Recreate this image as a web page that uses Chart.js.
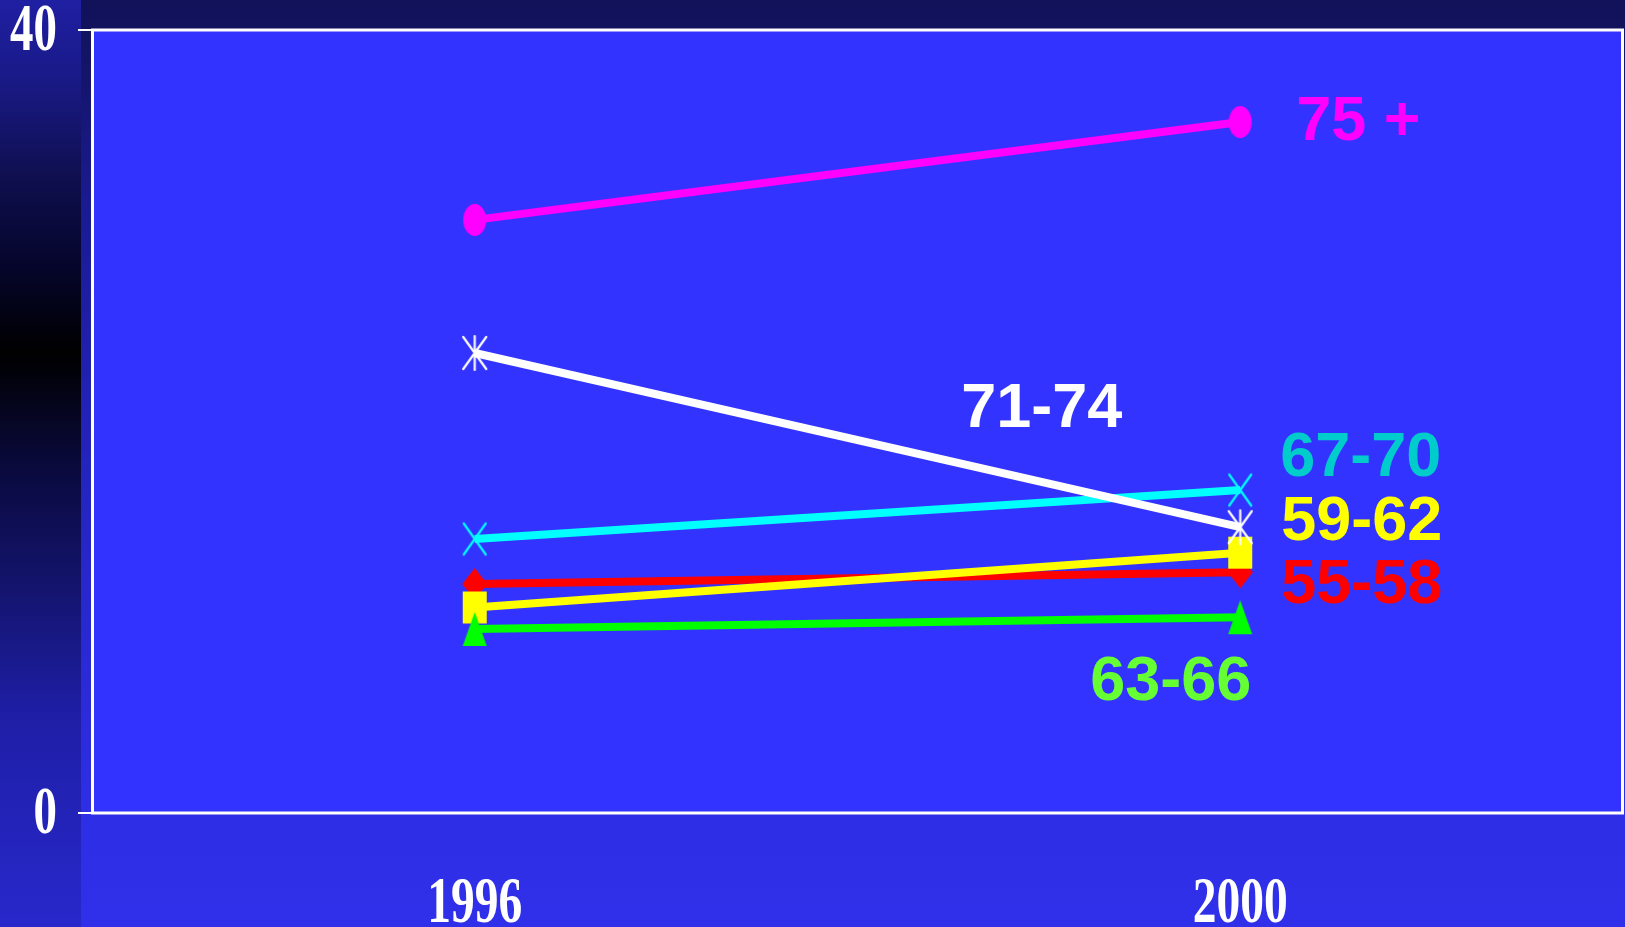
<!DOCTYPE html>
<html>
<head>
<meta charset="utf-8">
<script src="https://cdn.jsdelivr.net/npm/chart.js@4/dist/chart.umd.min.js"></script>
<style>
  html, body { margin: 0; padding: 0; background: #2f2fe8; overflow: hidden; }
  canvas { display: block; }
</style>
</head>
<body>
<canvas id="c" width="1625" height="927"></canvas>
<script>
// Survey years and axis ticks
const years = ['1996', '2000'];
const yTicks = [0, 40];

// Age-group series (value per survey year)
const age75plus = [30.3, 35.3];
const age71to74 = [23.5, 14.6];
const age67to70 = [14.0, 16.5];
const age63to66 = [9.4, 10.0];
const age59to62 = [10.5, 13.3];
const age55to58 = [11.7, 12.3];

// Builds a small canvas used as a point marker
function marker(shape, color, w, h) {
  const pad = 2;
  const c = document.createElement('canvas');
  c.width = w + pad * 2;
  c.height = h + pad * 2;
  const g = c.getContext('2d');
  g.translate(pad, pad);
  g.fillStyle = color;
  g.strokeStyle = color;
  g.lineWidth = 2.2;
  g.lineCap = 'round';
  const poly = pts => {
    g.beginPath();
    pts.forEach((p, i) => i ? g.lineTo(p[0], p[1]) : g.moveTo(p[0], p[1]));
    g.closePath();
    g.fill();
  };
  const line = (x1, y1, x2, y2) => {
    g.beginPath(); g.moveTo(x1, y1); g.lineTo(x2, y2); g.stroke();
  };
  switch (shape) {
    case 'ellipse':
      g.beginPath(); g.ellipse(w / 2, h / 2, w / 2, h / 2, 0, 0, Math.PI * 2); g.fill();
      break;
    case 'rect':
      g.fillRect(0, 0, w, h);
      break;
    case 'diamond':
      poly([[w / 2, 0], [w, h / 2], [w / 2, h], [0, h / 2]]);
      break;
    case 'triangle':
      poly([[w / 2, 0], [w, h], [0, h]]);
      break;
    case 'cross':
      line(1, 1, w - 1, h - 1); line(w - 1, 1, 1, h - 1);
      break;
    case 'asterisk':
      line(1, 1, w - 1, h - 1); line(w - 1, 1, 1, h - 1); line(w / 2, 0, w / 2, h);
      break;
  }
  return c;
}

const series = [
  { label: '75 +',  data: age75plus, color: '#ff00ff', point: marker('ellipse', '#ff00ff', 23, 32) },
  { label: '71-74', data: age71to74, color: '#ffffff', point: marker('asterisk', '#ffffff', 25, 34) },
  { label: '67-70', data: age67to70, color: '#00ffff', point: marker('cross', '#00ffff', 24, 33) },
  { label: '63-66', data: age63to66, color: '#00ff00', point: marker('triangle', '#00ff00', 24, 34) },
  { label: '59-62', data: age59to62, color: '#ffff00', point: marker('rect', '#ffff00', 24, 32) },
  { label: '55-58', data: age55to58, color: '#ff0000', point: marker('diamond', '#ff0000', 25, 32) }
];

// Series name captions: offset from the 2000 tick and from the plot top
const captions = [
  { text: '75 +',  color: '#ff00ff', dx: 56,   dy: 110 },
  { text: '71-74', color: '#ffffff', dx: -279, dy: 397 },
  { text: '67-70', color: '#00cccc', dx: 40,   dy: 446 },
  { text: '59-62', color: '#ffff00', dx: 41,   dy: 510 },
  { text: '55-58', color: '#ff0000', dx: 41,   dy: 573 },
  { text: '63-66', color: '#66ff33', dx: -150, dy: 670 }
];

const backdrop = {
  id: 'backdrop',
  beforeDraw(chart) {
    const { ctx, width, height, chartArea: a } = chart;
    ctx.save();
    // page background
    const bg = ctx.createLinearGradient(0, 0, 0, height);
    bg.addColorStop(0, '#11115a');
    bg.addColorStop(0.035, '#13135e');
    bg.addColorStop(0.22, '#1a1a92');
    bg.addColorStop(0.45, '#2222b8');
    bg.addColorStop(0.66, '#2828d0');
    bg.addColorStop(0.88, '#2e2ee6');
    bg.addColorStop(1, '#3030ea');
    ctx.fillStyle = bg;
    ctx.fillRect(0, 0, width, height);
    // left band
    const band = ctx.createLinearGradient(0, 0, 0, height);
    band.addColorStop(0, '#1f1fa2');
    band.addColorStop(0.08, '#1a1a8a');
    band.addColorStop(0.19, '#0f0f50');
    band.addColorStop(0.29, '#05052a');
    band.addColorStop(0.38, '#000000');
    band.addColorStop(0.51, '#0a0a40');
    band.addColorStop(0.64, '#141470');
    band.addColorStop(0.77, '#1e1ea6');
    band.addColorStop(1, '#2828cc');
    ctx.fillStyle = band;
    ctx.fillRect(0, 0, 81, height);
    // plot panel
    ctx.fillStyle = '#3333ff';
    ctx.fillRect(a.left, a.top, a.right - a.left, a.bottom - a.top);
    ctx.restore();
  },
  beforeDatasetsDraw(chart) {
    const { ctx, chartArea: a } = chart;
    ctx.save();
    ctx.strokeStyle = '#ffffff';
    ctx.lineWidth = 3;
    ctx.strokeRect(a.left + 0.5, a.top, a.right - a.left - 1, a.bottom - a.top);
    ctx.restore();
  },
  afterDraw(chart) {
    const { ctx, chartArea: a } = chart;
    const xs = chart.scales.x, ys = chart.scales.y;
    ctx.save();
    ctx.fillStyle = '#ffffff';
    ctx.font = 'bold 67px "Liberation Serif", "Times New Roman", serif';
    // y tick labels, condensed serif
    ys.ticks.forEach((t, i) => {
      ctx.save();
      ctx.translate(57, ys.getPixelForTick(i) + 3);
      ctx.scale(0.7, 1);
      ctx.textAlign = 'right';
      ctx.textBaseline = 'middle';
      ctx.fillText(String(t.value), 0, 0);
      ctx.restore();
    });
    // x tick labels
    ctx.font = 'bold 66px "Liberation Serif", "Times New Roman", serif';
    xs.ticks.forEach((t, i) => {
      ctx.save();
      ctx.translate(xs.getPixelForTick(i), 922);
      ctx.scale(0.72, 1);
      ctx.textAlign = 'center';
      ctx.textBaseline = 'alphabetic';
      ctx.fillText(years[t.value], 0, 0);
      ctx.restore();
    });
    // series captions
    const x2000 = xs.getPixelForValue(1);
    ctx.font = 'bold 63px "Liberation Sans", Arial, sans-serif';
    ctx.textAlign = 'left';
    ctx.textBaseline = 'alphabetic';
    captions.forEach(c => {
      ctx.fillStyle = c.color;
      ctx.fillText(c.text, x2000 + c.dx, a.top + c.dy);
    });
    ctx.restore();
  }
};

new Chart(document.getElementById('c'), {
  type: 'line',
  data: {
    labels: years,
    datasets: series.map(s => ({
      label: s.label,
      data: s.data,
      borderColor: s.color,
      backgroundColor: s.color,
      borderWidth: 8,
      borderCapStyle: 'butt',
      tension: 0,
      fill: false,
      pointStyle: s.point,
      pointRadius: 14,
      pointHoverRadius: 14
    }))
  },
  options: {
    responsive: false,
    devicePixelRatio: 1,
    animation: false,
    events: [],
    layout: { autoPadding: false, padding: { top: 30, right: 2, left: 0, bottom: 0 } },
    plugins: { legend: { display: false }, tooltip: { enabled: false } },
    scales: {
      x: {
        type: 'category',
        offset: true,
        grid: { display: false },
        border: { display: false },
        ticks: { display: false },
        afterFit(scale) { scale.height = 114; }
      },
      y: {
        min: yTicks[0],
        max: yTicks[yTicks.length - 1],
        afterBuildTicks(scale) { scale.ticks = yTicks.map(v => ({ value: v })); },
        grid: { drawOnChartArea: false, drawTicks: true, tickLength: 14, color: '#ffffff', lineWidth: 2 },
        border: { display: false },
        ticks: { display: false },
        afterFit(scale) { scale.width = 92; }
      }
    }
  },
  plugins: [backdrop]
});
</script>
</body>
</html>
